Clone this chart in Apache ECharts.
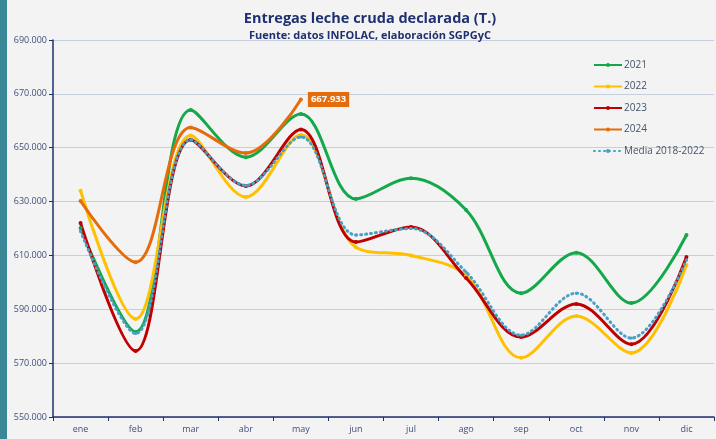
<!DOCTYPE html>
<html>
<head>
<meta charset="utf-8">
<script src="https://cdn.jsdelivr.net/npm/echarts@6/dist/echarts.min.js"></script>
<style>
  html, body { margin: 0; padding: 0; background: #f3f3f3; }
  #chart { width: 716px; height: 439px; }
</style>
</head>
<body>
<div id="chart"></div>
<script>
const months = ["ene", "feb", "mar", "abr", "may", "jun", "jul", "ago", "sep", "oct", "nov", "dic"];

const y2021 = [620200, 581600, 664000, 646500, 662500, 631000, 638700, 626900, 596000, 611000, 592300, 617600];
const y2022 = [634000, 586400, 654500, 631700, 654700, 613000, 610000, 602500, 572000, 587500, 573800, 606400];
const y2023 = [622000, 574500, 653000, 635800, 656800, 615000, 620600, 601600, 579700, 592000, 577000, 609400];
const y2024 = [630200, 607500, 657500, 648000, 667933];
const media = [619000, 581000, 653000, 636000, 654000, 617600, 620000, 603800, 580400, 596000, 579300, 608300];

const fmt = (v) => String(Math.round(v)).replace(/\B(?=(\d{3})+(?!\d))/g, ".");

const chart = echarts.init(document.getElementById("chart"));

const lineSeries = (name, data, color, extra) => Object.assign({
  name: name,
  type: "line",
  data: data,
  smooth: 0.35,
  symbol: "circle",
  symbolSize: 4,
  showSymbol: true,
  itemStyle: { color: color },
  lineStyle: { color: color, width: 3 },
  z: 3
}, extra || {});

// only the last 2024 point carries the value label
const data2024 = y2024.map((v, i) => i === y2024.length - 1 ? {
  value: v,
  label: {
    show: true,
    position: "right",
    distance: 5,
    formatter: (p) => fmt(p.value),
    backgroundColor: "#e46c0a",
    color: "#ffffff",
    fontSize: 9.5,
    fontWeight: "bold",
    padding: [3, 3, 2, 3]
  }
} : v);

const option = {
  backgroundColor: "#f3f3f3",
  animation: false,
  textStyle: { fontFamily: "Open Sans" },
  graphic: [
    { type: "rect", left: 0, top: 0, shape: { width: 7, height: 439 }, style: { fill: "#3a8797" } }
  ],
  title: {
    text: "Entregas leche cruda declarada (T.)",
    subtext: "Fuente: datos INFOLAC, elaboración SGPGyC",
    left: 365,
    textAlign: "center",
    top: 6,
    itemGap: 4,
    textStyle: { fontSize: 14.5, fontWeight: "bold", color: "#1f3070", fontFamily: "Open Sans" },
    subtextStyle: { fontSize: 11, fontWeight: "bold", color: "#1f3070", fontFamily: "Open Sans" }
  },
  legend: {
    orient: "vertical",
    left: 588,
    top: 55,
    itemGap: 11.5,
    itemWidth: 28,
    itemHeight: 5,
    textStyle: { fontSize: 10, color: "#44546a", padding: [0, 0, 0, -3] },
    data: ["2021", "2022", "2023", "2024", "Media 2018-2022"]
  },
  grid: { left: 53, right: 2, top: 40, bottom: 22, containLabel: false },
  xAxis: {
    type: "category",
    data: months,
    boundaryGap: true,
    axisLine: { lineStyle: { color: "#1f3070", width: 1.5 } },
    axisTick: { show: true, length: 4, lineStyle: { color: "#1f3070" } },
    axisLabel: { fontSize: 9, color: "#3f4f7a", margin: 8 }
  },
  yAxis: {
    type: "value",
    min: 550000,
    max: 690000,
    interval: 20000,
    axisLine: { show: true, lineStyle: { color: "#1f3070", width: 1.5 } },
    axisTick: { show: true, length: 4, lineStyle: { color: "#1f3070" } },
    axisLabel: { fontSize: 9, color: "#3f4f7a", margin: 6, formatter: fmt },
    splitLine: { lineStyle: { color: "#c8cfdc", width: 1 } }
  },
  series: [
    lineSeries("2021", y2021, "#13a84a"),
    lineSeries("2022", y2022, "#ffc000"),
    lineSeries("2023", y2023, "#c00000"),
    lineSeries("2024", data2024, "#e46c0a"),
    lineSeries("Media 2018-2022", media, "#4a9fc4", {
      lineStyle: { color: "#4a9fc4", width: 3, type: [1, 4], cap: "round" },
      symbolSize: 3,
      z: 4
    })
  ]
};

chart.setOption(option);
</script>
</body>
</html>
